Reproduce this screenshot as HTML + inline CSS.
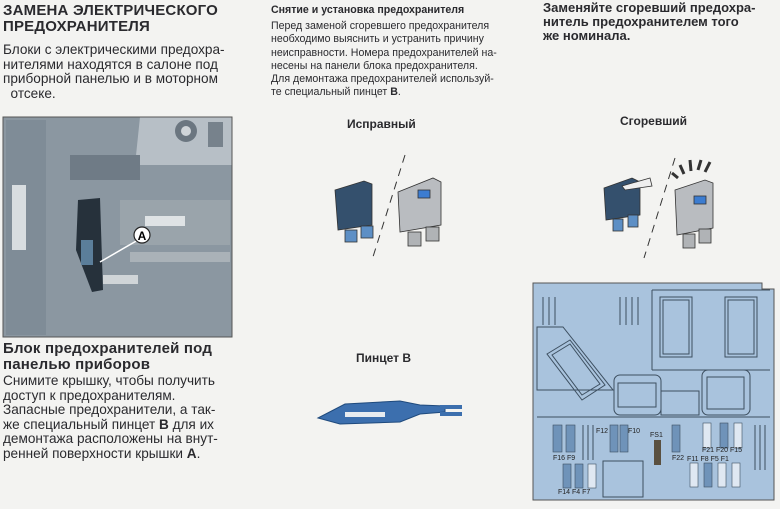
<!DOCTYPE html>
<html><head><meta charset="utf-8"><style>
body{margin:0;width:780px;height:509px;background:#f3f3f1;position:relative;overflow:hidden;font-family:"Liberation Sans","DejaVu Sans",sans-serif;color:#2a2a2e}
.t{position:absolute;white-space:nowrap}
.h{font-weight:bold;font-size:15px;letter-spacing:0.2px}
.p{font-size:13.6px;line-height:14.6px}
.s{font-size:10.6px;line-height:13.3px}
.b{font-weight:bold}
</style></head><body>
<div class="t h" style="left:3px;top:3px;line-height:16px">ЗАМЕНА ЭЛЕКТРИЧЕСКОГО<br>ПРЕДОХРАНИТЕЛЯ</div>
<div class="t p" style="left:3px;top:43px">Блоки с электрическими предохра-<br>нителями находятся в салоне под<br>приборной панелью и в моторном<br>&nbsp;&nbsp;отсеке.</div>
<div class="t h" style="left:3px;top:341px;line-height:16px">Блок предохранителей под<br>панелью приборов</div>
<div class="t p" style="left:3px;top:374px">Снимите крышку, чтобы получить<br>доступ к предохранителям.</div>
<div class="t p" style="left:3px;top:403px">Запасные предохранители, а так-<br>же специальный пинцет <b>B</b> для их<br>демонтажа расположены на внут-<br>ренней поверхности крышки <b>А</b>.</div>
<div class="t s b" style="left:271px;top:4px">Снятие и установка предохранителя</div>
<div class="t s" style="left:271px;top:20px">Перед заменой сгоревшего предохранителя<br>необходимо выяснить и устранить причину<br>неисправности. Номера предохранителей на-<br>несены на панели блока предохранителя.</div>
<div class="t s" style="left:271px;top:73px">Для демонтажа предохранителей используй-<br>те специальный пинцет <b>B</b>.</div>
<div class="t b" style="left:347px;top:117px;font-size:12px">Исправный</div>
<div class="t b" style="left:620px;top:114px;font-size:12px">Сгоревший</div>
<div class="t b" style="left:356px;top:351px;font-size:12px">Пинцет B</div>
<div class="t b" style="left:543px;top:1px;font-size:13px;line-height:14px">Заменяйте сгоревший предохра-<br>нитель предохранителем того<br>же номинала.</div>

<svg width="780" height="509" style="position:absolute;left:0;top:0">
<rect x="3" y="117" width="229" height="220" fill="#8b97a1"/>
<rect x="6" y="120" width="40" height="215" fill="#7f8c97"/>
<rect x="12" y="185" width="14" height="65" fill="#d8dde0"/>
<path d="M140 117 H232 V165 H135 Z" fill="#b7bfc6"/>
<circle cx="186" cy="131" r="11" fill="#6b7680"/><circle cx="186" cy="131" r="5" fill="#cfd4d8"/>
<rect x="208" y="122" width="15" height="25" fill="#77828c"/>
<rect x="70" y="155" width="70" height="25" fill="#6f7b86"/>
<rect x="120" y="200" width="110" height="45" fill="#9aa4ab"/>
<rect x="145" y="216" width="40" height="10" fill="#dfe3e5"/>
<rect x="130" y="252" width="100" height="10" fill="#aab2b8"/>
<path d="M78 200 L100 198 L103 290 L92 292 L76 250 Z" fill="#26313b"/>
<rect x="81" y="240" width="12" height="25" fill="#5b7e9a"/>
<rect x="103" y="275" width="35" height="9" fill="#d0d5d8"/>
<line x1="100" y1="262" x2="138" y2="240" stroke="#fff" stroke-width="1.5"/>
<circle cx="142" cy="235" r="8" fill="#fff" stroke="#222" stroke-width="1.2"/>
<text x="142" y="240" font-size="12" font-weight="bold" text-anchor="middle" font-family="Liberation Sans">A</text>
<rect x="3" y="117" width="229" height="220" fill="none" stroke="#555" stroke-width="1"/>

<g stroke="#333" stroke-width="0.8">
<path d="M335 190 L364 181 L372 184 L372 225 L338 230 Z" fill="#34506d"/>
<rect x="345" y="230" width="12" height="12" fill="#5d8fc5"/><rect x="361" y="226" width="12" height="12" fill="#5d8fc5"/>
<path d="M398 192 L433 178 L441 182 L441 225 L400 232 Z" fill="#b9bcc0"/>
<rect x="418" y="190" width="12" height="8" fill="#3c7cd0"/>
<rect x="408" y="232" width="13" height="14" fill="#b0b3b6"/><rect x="426" y="227" width="13" height="14" fill="#b0b3b6"/>
</g>
<line x1="405" y1="155" x2="372" y2="260" stroke="#333" stroke-dasharray="8,6"/>
<g stroke="#333" stroke-width="0.8">
<path d="M604 188 L632 178 L640 182 L640 215 L606 220 Z" fill="#34506d"/>
<rect x="613" y="219" width="10" height="12" fill="#5d8fc5"/><rect x="628" y="215" width="10" height="12" fill="#5d8fc5"/>
<path d="M622 186 L650 178 L652 186 L625 190 Z" fill="#eee"/>
<path d="M675 190 L705 180 L713 183 L713 228 L677 235 Z" fill="#b9bcc0"/>
<rect x="694" y="196" width="12" height="8" fill="#3c7cd0"/>
<rect x="683" y="234" width="12" height="14" fill="#b0b3b6"/><rect x="699" y="229" width="12" height="14" fill="#b0b3b6"/>
</g>
<line x1="675" y1="158" x2="644" y2="258" stroke="#333" stroke-dasharray="8,6"/>
<g stroke="#333" stroke-width="3"><line x1="678" y1="178" x2="672" y2="173"/><line x1="684" y1="174" x2="680" y2="165"/><line x1="691" y1="171" x2="690" y2="160"/><line x1="698" y1="170" x2="701" y2="160"/><line x1="705" y1="172" x2="710" y2="162"/></g>

<path d="M318 418 L345 404 L400 401 L420 405 L445 406 L445 412 L420 414 L400 422 L340 424 Z" fill="#3c6fae" stroke="#1f4a7d"/>
<rect x="440" y="405" width="22" height="4" fill="#3c6fae"/><rect x="440" y="412" width="22" height="4" fill="#3c6fae"/>
<rect x="345" y="412" width="40" height="5" fill="#e8ecf0"/>

<path d="M533 283 L762 283 L762 289 L774 289 L774 500 L533 500 Z" fill="#a9c3dd" stroke="#555"/>
<g fill="none" stroke="#3d4f60" stroke-width="1">
<line x1="652" y1="290" x2="652" y2="370"/><line x1="652" y1="290" x2="770" y2="290"/>
<line x1="652" y1="370" x2="770" y2="370"/>
<rect x="660" y="297" width="32" height="60"/><rect x="663" y="300" width="26" height="54"/>
<rect x="725" y="297" width="32" height="60"/><rect x="728" y="300" width="26" height="54"/>
<path d="M537 327 L563 327 L613 390 L537 390 Z"/>
<path d="M547 354 L570 340 L605 385 L582 400 Z"/><path d="M552 355 L570 344 L600 384 L582 395 Z"/>
<rect x="614" y="375" width="47" height="40" rx="6"/><rect x="618" y="383" width="38" height="24"/>
<rect x="661" y="391" width="38" height="24"/>
<rect x="702" y="370" width="48" height="45" rx="6"/><rect x="707" y="377" width="37" height="32"/>
<line x1="537" y1="417" x2="770" y2="417"/>
<rect x="603" y="461" width="40" height="36"/>
</g>
<g stroke="#3d4f60"><line x1="543" y1="297" x2="543" y2="325"/><line x1="549" y1="297" x2="549" y2="325"/><line x1="555" y1="297" x2="555" y2="325"/>
<line x1="620" y1="297" x2="620" y2="325"/><line x1="626" y1="297" x2="626" y2="325"/><line x1="632" y1="297" x2="632" y2="325"/><line x1="638" y1="297" x2="638" y2="325"/>
<line x1="755" y1="425" x2="755" y2="470"/><line x1="760" y1="425" x2="760" y2="470"/><line x1="765" y1="425" x2="765" y2="470"/>
<line x1="583" y1="425" x2="583" y2="460"/><line x1="588" y1="425" x2="588" y2="460"/><line x1="593" y1="425" x2="593" y2="460"/></g>
<g fill="#6f93b9" stroke="#3d4f60" stroke-width="0.6">
<rect x="553" y="425" width="9" height="27"/><rect x="566" y="425" width="9" height="27"/>
<rect x="610" y="425" width="8" height="27"/><rect x="620" y="425" width="8" height="27"/>
<rect x="672" y="425" width="8" height="27"/><rect x="563" y="464" width="8" height="24"/><rect x="575" y="464" width="8" height="24"/>
<rect x="720" y="423" width="8" height="25"/><rect x="704" y="463" width="8" height="24"/></g>
<g fill="#dfe8f2" stroke="#3d4f60" stroke-width="0.6">
<rect x="703" y="423" width="8" height="25"/><rect x="734" y="423" width="8" height="25"/>
<rect x="588" y="464" width="8" height="24"/><rect x="690" y="463" width="8" height="24"/>
<rect x="718" y="463" width="8" height="24"/><rect x="732" y="463" width="8" height="24"/></g>
<rect x="654" y="440" width="7" height="25" fill="#5a5040"/>
<g font-size="7" font-family="Liberation Sans" fill="#222">
<text x="553" y="460">F16 F9</text><text x="596" y="433">F12</text><text x="628" y="433">F10</text>
<text x="650" y="437">FS1</text><text x="672" y="460">F22</text><text x="702" y="452">F21 F20 F15</text>
<text x="687" y="461">F11 F8 F5 F1</text><text x="558" y="494">F14 F4 F7</text></g>
</svg>
</body></html>
